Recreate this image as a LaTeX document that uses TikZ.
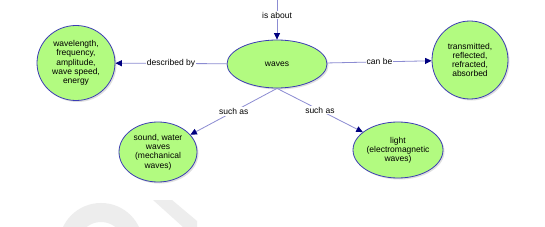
\documentclass[tikz,border=0pt]{standalone}
\usepackage{fontspec}
\setmainfont{Liberation Sans}
\usepackage{tikz}
\usetikzlibrary{arrows.meta,shapes.geometric,shadows}

\definecolor{conceptgreen}{HTML}{B2FB80}
\definecolor{conceptblue}{HTML}{3C3CB4}
\definecolor{linkblue}{HTML}{8C8CD2}
\definecolor{tipblue}{HTML}{000080}
\definecolor{markgray}{HTML}{EDEDED}

\begin{document}
\begin{tikzpicture}[x=1pt,y=-1pt,
    concept/.style={ellipse,draw=conceptblue,line width=0.8pt,fill=conceptgreen,
      inner sep=0pt,align=center,font=\fontsize{8.5}{9.2}\selectfont,
      drop shadow={shadow xshift=1.5pt,shadow yshift=-1.5pt,opacity=0.25}},
    link/.style={draw=linkblue,line width=0.8pt,
      -{Triangle[length=6.5pt,width=6pt,color=tipblue]}},
    lbl/.style={fill=white,inner sep=1pt,font=\fontsize{8.5}{9.2}\selectfont}]
    \useasboundingbox[fill=white] (0,0) rectangle (545,227);
    % faint watermark at the bottom
    \draw[markgray,line width=19pt] (133.5,245) arc[start angle=0,end angle=-180,radius=32.5];
    \fill[markgray] (153,200) -- (172,200) -- (197,221) -- (197,227) -- (183,227) -- cycle;
    % concepts
    \node[concept,minimum width=100pt,minimum height=48pt] (waves) at (277,64) {waves};
    \node[concept,minimum width=78pt,minimum height=75pt] (props) at (76,63)
      {wavelength,\\frequency,\\amplitude,\\wave speed,\\energy};
    \node[concept,minimum width=76pt,minimum height=78pt] (fates) at (470,60)
      {transmitted,\\reflected,\\refracted,\\absorbed};
    \node[concept,minimum width=78pt,minimum height=60pt] (mech) at (158,152)
      {sound, water\\waves\\(mechanical\\waves)};
    \node[concept,minimum width=90pt,minimum height=56pt] (light) at (398,150)
      {light\\(electromagnetic\\waves)};
    \coordinate (topend) at (277,0);
    % links
    \draw[link] (topend) -- node[lbl,pos=0.38] {is about} (waves);
    \draw[link] (waves) -- node[lbl] {described by} (props);
    \draw[link] (waves) -- node[lbl] {can be} (fates);
    \draw[link] (waves.south) -- node[lbl] {such as} (mech);
    \draw[link] (waves.south) -- node[lbl] {such as} (light);
\end{tikzpicture}
\end{document}
